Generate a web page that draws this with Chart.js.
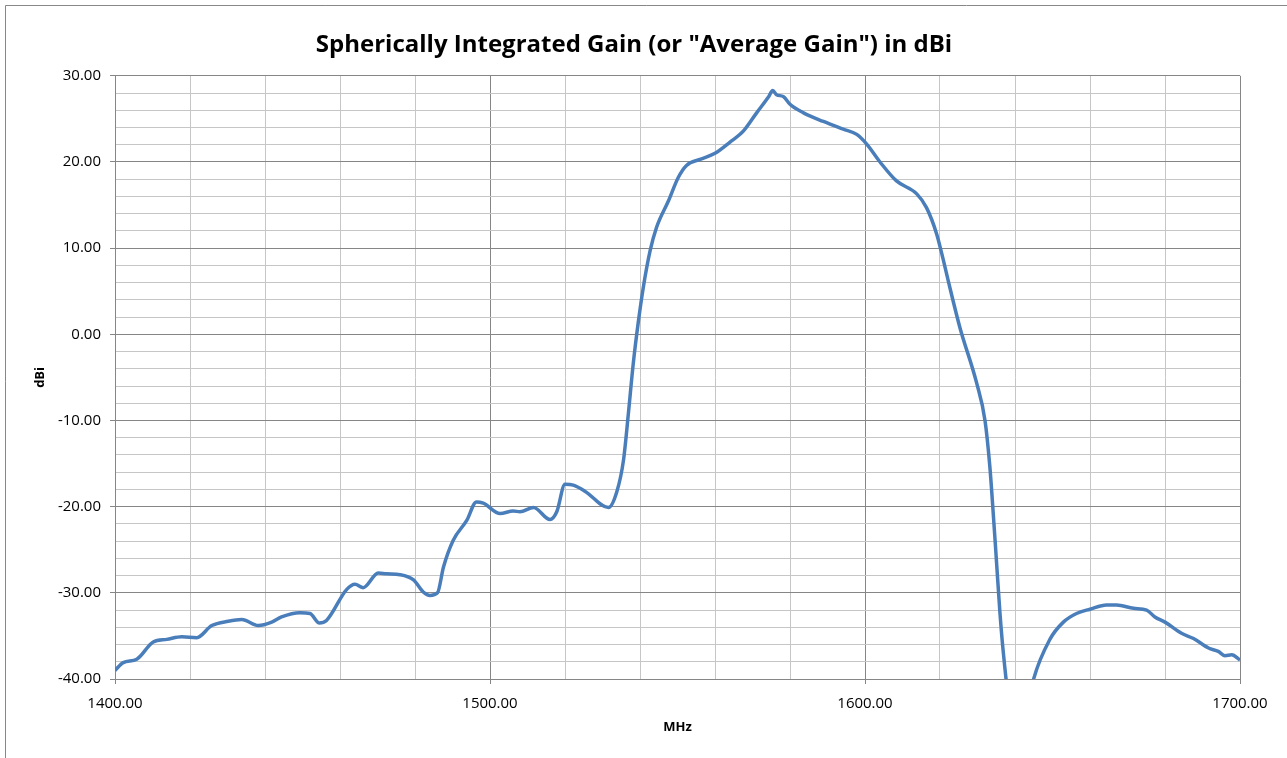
<!DOCTYPE html>
<html>
<head>
<meta charset="utf-8">
<script src="https://cdn.jsdelivr.net/npm/chart.js@4/dist/chart.umd.min.js"></script>
<style>
    html, body { margin: 0; padding: 0; background: #fff; }
    #wrap { width: 1287px; height: 758px; position: relative; }
</style>
</head>
<body>
<div id="wrap"><canvas id="ganancia"></canvas></div>
<script>
const titulo = 'Spherically Integrated Gain (or "Average Gain") in dBi';

// frecuencia (MHz) y ganancia (dBi)
const frecuencias = [
    1400, 1402.2, 1405.8, 1410.2, 1413.8, 1417.8, 1421.8, 1425.8, 1430.2, 1433.8,
    1438.2, 1441.8, 1444.4, 1449.3, 1452, 1454.5, 1456.4, 1461.8, 1464, 1466.2,
    1470.2, 1472.4, 1476, 1479.6, 1482.2, 1484, 1486, 1487.6, 1490.2, 1493.8,
    1496.4, 1498.2, 1502.7, 1506.2, 1508, 1511.6, 1516, 1517.8, 1520, 1522.2,
    1525.3, 1531.6, 1533.8, 1535.6, 1536.9, 1538.2, 1539.6, 1540.9, 1542.7, 1544.4,
    1547.6, 1550.2, 1552.4, 1556, 1560, 1564, 1567.6, 1571.1, 1574.2, 1575.4,
    1576.4, 1578.2, 1580, 1583.6, 1588.9, 1594.2, 1597.8, 1600.4, 1604, 1608.4,
    1613.8, 1616.4, 1619.1, 1620.9, 1622.2, 1625.3, 1629.8, 1632, 1633.3, 1634.2,
    1635.1, 1636, 1636.9, 1638.5, 1641, 1644, 1644.9, 1649.3, 1652.9, 1656.4,
    1660, 1664.4, 1667.1, 1671.6, 1675.1, 1677.3, 1680, 1684.4, 1687.6, 1691.6,
    1694.2, 1696, 1697.8, 1700
];
const ganancias = [
    -39.0, -38.1, -37.7, -35.7, -35.4, -35.1, -35.2, -33.8, -33.3, -33.1,
    -33.8, -33.4, -32.8, -32.3, -32.4, -33.5, -33.2, -29.6, -29.0, -29.4,
    -27.7, -27.8, -27.9, -28.5, -29.9, -30.3, -30.0, -27.0, -23.9, -21.6,
    -19.45, -19.6, -20.8, -20.5, -20.6, -20.1, -21.5, -20.6, -17.4, -17.5,
    -18.2, -20.1, -18.3, -14.6, -9.2, -3.4, 1.6, 5.5, 9.7, 12.4,
    15.5, 18.2, 19.6, 20.3, 21.0, 22.3, 23.6, 25.7, 27.5, 28.3,
    27.8, 27.6, 26.7, 25.7, 24.7, 23.8, 23.2, 22.1, 20.0, 17.8,
    16.3, 14.7, 11.65, 8.6, 6.2, 0.8, -5.7, -10.0, -15.4, -20.8,
    -26.6, -32.4, -37.0, -43, -47, -42, -40.1, -35.4, -33.4, -32.4,
    -31.9, -31.4, -31.4, -31.8, -32.0, -32.8, -33.4, -34.7, -35.3, -36.4,
    -36.8, -37.3, -37.2, -37.8
];

const ejeX = {min: 1400, max: 1700, paso: 20, mayor: 100};
const ejeY = {min: -40, max: 30, paso: 2, mayor: 10};

const fuente = '"Open Sans", "Liberation Sans", sans-serif';

function esMayor(value, mayor) {
    return Math.abs(value % mayor) < 1e-6;
}

function colorGrilla(mayor) {
    return (ctx) => (ctx.tick && esMayor(ctx.tick.value, mayor)) ? '#868686' : '#c6c6c6';
}

function colorMarca(mayor) {
    return (ctx) => (ctx.tick && esMayor(ctx.tick.value, mayor)) ? '#868686' : 'rgba(0,0,0,0)';
}

// '' y no null, para que la linea de grilla menor se siga dibujando
function etiqueta(mayor) {
    return (value) => esMayor(value, mayor) ? value.toFixed(2) : '';
}

// marco exterior del grafico
const marco = {
    id: 'marco',
    beforeDraw(chart) {
        let c = chart.ctx;
        c.save();
        c.strokeStyle = '#878787';
        c.lineWidth = 1;
        c.beginPath();
        c.moveTo(5.5, chart.height);
        c.lineTo(5.5, 5.5);
        c.lineTo(chart.width, 5.5);
        c.stroke();
        c.restore();
    }
};

function graficar(context) {
    new Chart(context, {
        type: 'line',
        data: {
            datasets: [{
                label: 'dBi',
                data: frecuencias.map((f, i) => ({x: f, y: ganancias[i]})),
                borderColor: '#4a7ebb',
                borderWidth: 3.5,
                pointRadius: 0,
                cubicInterpolationMode: 'monotone',
                fill: false,
            }]
        },
        options: {
            responsive: true,
            maintainAspectRatio: false,
            animation: false,
            layout: {padding: {left: 28, right: 47, top: 0, bottom: 19}},
            plugins: {
                legend: {display: false},
                tooltip: {enabled: false},
                title: {
                    display: true,
                    text: titulo,
                    color: '#000',
                    font: {family: fuente, size: 24, weight: 'bold'},
                    padding: {top: 31, bottom: 16},
                },
            },
            scales: {
                x: {
                    type: 'linear',
                    min: ejeX.min,
                    max: ejeX.max,
                    afterBuildTicks: (s) => {
                        s.ticks = [];
                        for (let v = ejeX.min; v <= ejeX.max; v += ejeX.paso) s.ticks.push({value: v});
                    },
                    afterFit: (s) => { s.height = 60; },
                    ticks: {
                        callback: etiqueta(ejeX.mayor),
                        color: '#000',
                        font: {family: fuente, size: 15},
                        maxRotation: 0,
                        autoSkip: false,
                        padding: 11,
                    },
                    grid: {
                        color: colorGrilla(ejeX.mayor),
                        tickColor: colorMarca(ejeX.mayor),
                        tickLength: 5,
                    },
                    border: {color: '#868686'},
                    title: {
                        display: true,
                        text: 'MHz',
                        color: '#000',
                        font: {family: fuente, size: 13, weight: 'bold'},
                        padding: {top: 6},
                    },
                },
                y: {
                    min: ejeY.min,
                    max: ejeY.max,
                    afterBuildTicks: (s) => {
                        s.ticks = [];
                        for (let v = ejeY.min; v <= ejeY.max; v += ejeY.paso) s.ticks.push({value: v});
                    },
                    afterFit: (s) => { s.width = 87; },
                    ticks: {
                        callback: etiqueta(ejeY.mayor),
                        color: '#000',
                        font: {family: fuente, size: 15},
                        autoSkip: false,
                        padding: 9,
                    },
                    grid: {
                        color: colorGrilla(ejeY.mayor),
                        tickColor: colorMarca(ejeY.mayor),
                        tickLength: 5,
                    },
                    border: {color: '#868686'},
                    title: {
                        display: true,
                        text: 'dBi',
                        color: '#000',
                        font: {family: fuente, size: 13, weight: 'bold'},
                        padding: {bottom: 0},
                    },
                },
            },
        },
        plugins: [marco],
    });
}

document.addEventListener('DOMContentLoaded', () => {
    graficar(document.getElementById('ganancia').getContext('2d'));
});
</script>
</body>
</html>
